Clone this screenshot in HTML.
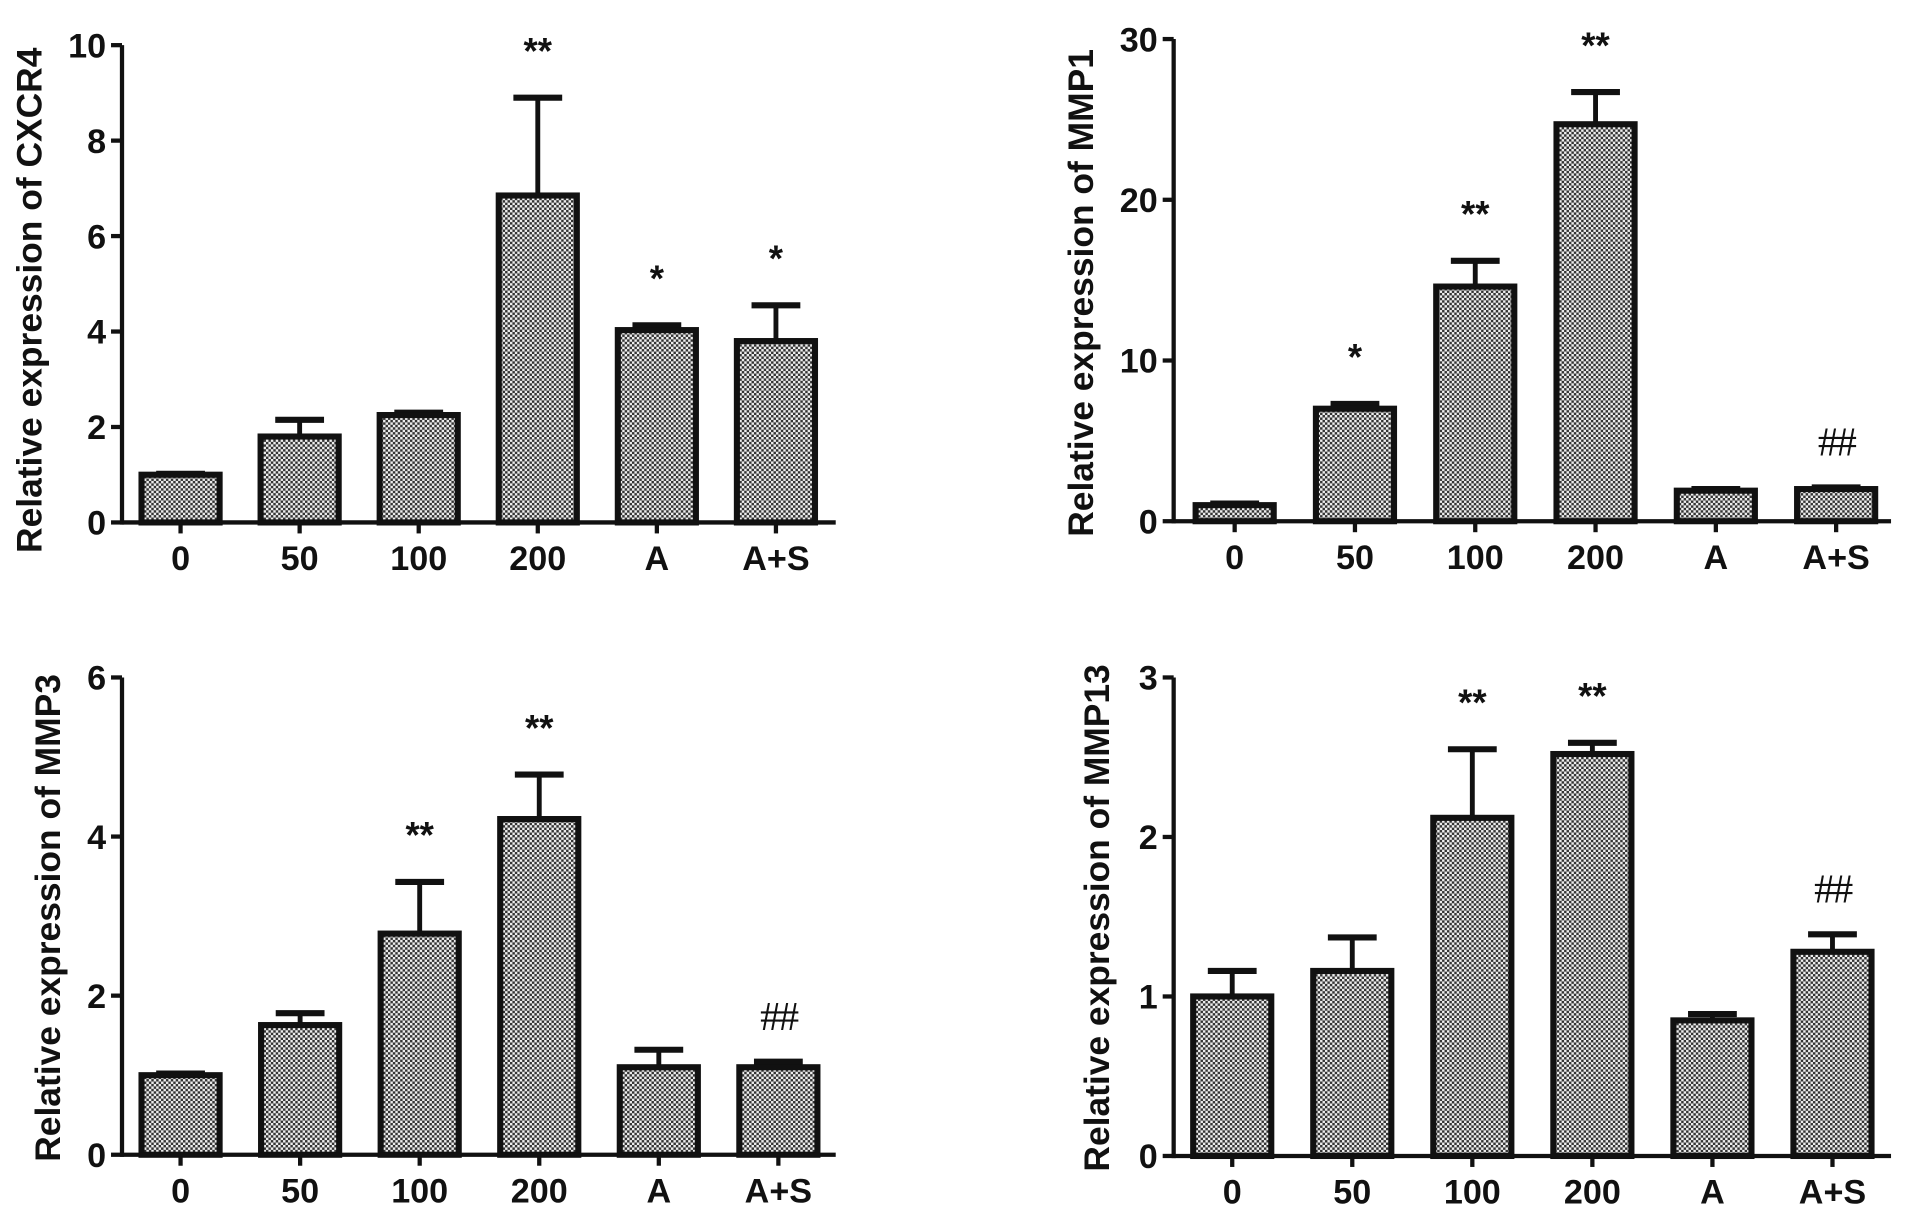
<!DOCTYPE html>
<html><head><meta charset="utf-8"><style>
html,body{margin:0;padding:0;background:#fff;}
svg{display:block;}
text{font-family:"Liberation Sans",Arial,sans-serif;font-weight:bold;fill:#111;}
</style></head><body>
<svg id="chart" width="1913" height="1217" viewBox="0 0 1568 997" preserveAspectRatio="none" xmlns="http://www.w3.org/2000/svg">
<defs>
<pattern id="chk" width="4" height="4" patternUnits="userSpaceOnUse">
<rect width="4" height="4" fill="#eee"/>
<rect width="2" height="2" fill="#333"/>
<rect x="2" y="2" width="2" height="2" fill="#333"/>
</pattern>
</defs>
</svg>
<script>
const categories = ["0","50","100","200","A","A+S"];
const cxcr4Values = [1.0, 1.8, 2.25, 6.85, 4.03, 3.8];
const cxcr4Errors = [0.02, 0.35, 0.05, 2.05, 0.1, 0.75];
const cxcr4Marks = ["", "", "", "**", "*", "*"];
const cxcr4Ticks = [0, 2, 4, 6, 8, 10];
const mmp1Values = [1.0, 7.0, 14.6, 24.7, 1.9, 2.0];
const mmp1Errors = [0.1, 0.3, 1.6, 2.0, 0.1, 0.1];
const mmp1Marks = ["", "*", "**", "**", "", "##"];
const mmp1Ticks = [0, 10, 20, 30];
const mmp3Values = [1.0, 1.63, 2.78, 4.22, 1.1, 1.1];
const mmp3Errors = [0.02, 0.15, 0.65, 0.56, 0.22, 0.07];
const mmp3Marks = ["", "", "**", "**", "", "##"];
const mmp3Ticks = [0, 2, 4, 6];
const mmp13Values = [1.0, 1.16, 2.12, 2.52, 0.85, 1.28];
const mmp13Errors = [0.16, 0.21, 0.43, 0.07, 0.04, 0.11];
const mmp13Marks = ["", "", "**", "**", "", "##"];
const mmp13Ticks = [0, 1, 2, 3];

const svg = document.getElementById('chart');
const NS = 'http://www.w3.org/2000/svg';
function mk(tag, attrs, parent){
  const e = document.createElementNS(NS, tag);
  for (const k in attrs) e.setAttribute(k, attrs[k]);
  parent.appendChild(e);
  return e;
}
function panel(cfg, values, errors, marks, ticks, name){
  const g = mk('g', {}, svg);
  
  
  const max = ticks[ticks.length-1];
  const y = v => cfg.y0 - (v / max) * (cfg.y0 - cfg.yTop);
  const x = i => cfg.c0 + i * cfg.step;
  const bw = 64;
  values.forEach((v, i) => {
    const top = y(v + errors[i]);
    const el = mk('line', {x1:x(i), x2:x(i), y1:y(v), y2:top, stroke:'#111','stroke-width':4}, g);
    
    
    const cap = mk('line', {x1:x(i)-20, x2:x(i)+20, y1:top, y2:top, stroke:'#111','stroke-width':5}, g);
    
    
    const r = mk('rect', {x:x(i)-bw/2, y:y(v), width:bw, height:cfg.y0 - y(v), fill:'url(#chk)', stroke:'#111','stroke-width':5}, g);
    
    
    if (marks[i]) {
      const isHash = marks[i][0]==='#';
      const t = mk('text', {x:x(i), y:top - (isHash ? 26 : 28), 'text-anchor':'middle', 'font-size': isHash ? 34 : 30}, g);
      t.textContent = marks[i];
      if (isHash) t.setAttribute('style','font-family:"Liberation Serif",serif;font-weight:normal;letter-spacing:-2px');
      
      
    }
    const xl = mk('text', {x:x(i), y:cfg.y0 + 39, 'text-anchor':'middle', 'font-size':28}, g);
    xl.textContent = categories[i];
    
    
    const tk = mk('line', {x1:x(i), x2:x(i), y1:cfg.y0, y2:cfg.y0+9, stroke:'#111','stroke-width':3.5}, g);
    
    
  });
  const ya = mk('line', {x1:cfg.ax, x2:cfg.ax, y1:cfg.yTop, y2:cfg.y0+1.75, stroke:'#111','stroke-width':3.5}, g);
  
  
  const xa = mk('line', {x1:cfg.ax, x2:cfg.xEnd, y1:cfg.y0, y2:cfg.y0, stroke:'#111','stroke-width':3.5}, g);
  
  
  ticks.forEach(t => {
    const l = mk('line', {x1:cfg.ax-9, x2:cfg.ax, y1:y(t), y2:y(t), stroke:'#111','stroke-width':3.5}, g);
    
    
    const tl = mk('text', {x:cfg.ax-13, y:y(t)+10, 'text-anchor':'end', 'font-size':28}, g);
    tl.textContent = t;
    
    
  });
  const tt = mk('text', {x:0, y:0, 'text-anchor':'middle', 'font-size':29, transform:'translate(' + cfg.tx + ',' + cfg.ty + ') rotate(-90)'}, g);
  tt.textContent = 'Relative expression of ' + cfg.title;
  
  
}
panel({ax:100, yTop:37, y0:428, c0:148, step:97.6, xEnd:685, tx:34, ty:246, title:'CXCR4'}, cxcr4Values, cxcr4Errors, cxcr4Marks, cxcr4Ticks, 'cxcr4');
panel({ax:962, yTop:32, y0:427, c0:1012, step:98.6, xEnd:1550, tx:896, ty:240, title:'MMP1'}, mmp1Values, mmp1Errors, mmp1Marks, mmp1Ticks, 'mmp1');
panel({ax:100, yTop:555, y0:946, c0:148, step:98, xEnd:685, tx:49, ty:752, title:'MMP3'}, mmp3Values, mmp3Errors, mmp3Marks, mmp3Ticks, 'mmp3');
panel({ax:962, yTop:555, y0:947, c0:1010, step:98.4, xEnd:1550, tx:909, ty:752, title:'MMP13'}, mmp13Values, mmp13Errors, mmp13Marks, mmp13Ticks, 'mmp13');
</script>
</body></html>
